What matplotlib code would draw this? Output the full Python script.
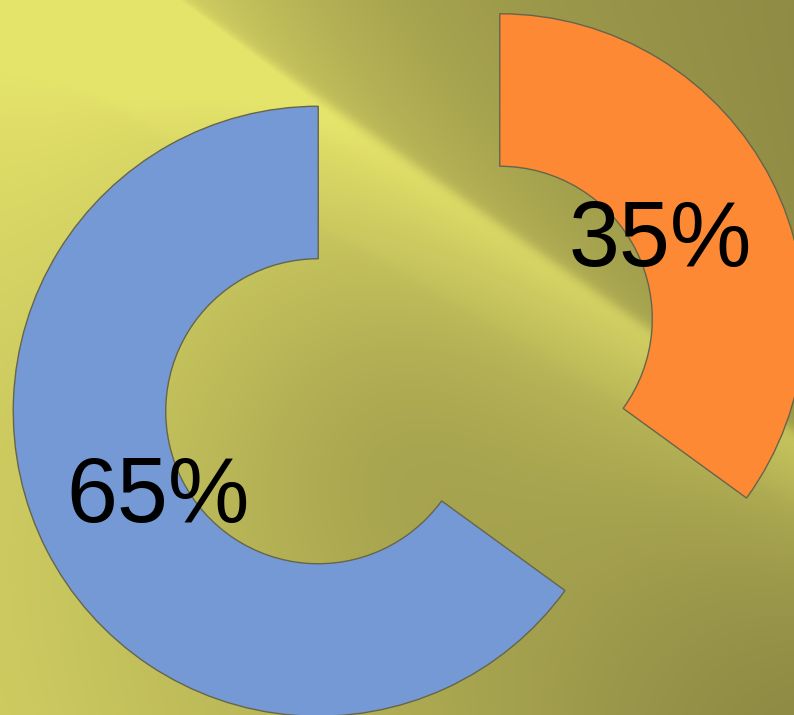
import numpy as np
import matplotlib.pyplot as plt

# Data
labels = ['A', 'B']
values = [65, 35]
colors = ['#7499D5', '#FD8934']

W, H = 794, 715

# Background: olive/yellow gradient with a diagonal light band
yy, xx = np.mgrid[0:H, 0:W].astype(float)
q = yy - 0.7 * xx + 125          # distance below the sharp upper edge of the band
step = 1 / (1 + np.exp(-q / 4.0))
below = 0.55 * np.exp(-np.clip(q, 0, None) / 140) + 0.15 * np.exp(-np.clip(q, 0, None) / 400)
above = 0.25 * np.exp(np.clip(q, None, 0) / 120)
band = step * below + (1 - step) * above
p2 = yy - 0.58 * xx - 39
band += 0.05 * (1 / (1 + np.exp(p2 / 4.0))) * step
g = 0.35 - 0.35 * (xx / W) + 0.35 * (yy / H) * (1 - xx / W)
tl = 0.4 * np.exp(-((xx / 280) ** 2 + (yy / 400) ** 2))
dip = -0.12 * np.exp(-(((xx - 380) / 160) ** 2 + ((yy - 450) / 160) ** 2))
br = -0.15 * np.exp(-(((xx - W) / 300) ** 2 + ((yy - H) / 300) ** 2))
b = np.clip(band + g + tl + dip + br, 0, 1)
light = np.array([228, 227, 106]) / 255
dark = np.array([143, 139, 69]) / 255
bg = dark + b[..., None] * (light - dark)

fig = plt.figure(figsize=(W / 100, H / 100), dpi=100)
ax_bg = fig.add_axes([0, 0, 1, 1])
ax_bg.imshow(bg, aspect='auto', extent=(0, W, H, 0))
ax_bg.axis('off')

# Donut chart, units of outer radius
R = 305.0
cx, cy = 409.0, 350.0  # centre in pixels (y up)
ax = fig.add_axes([0, 0, 1, 1])
ax.patch.set_alpha(0)
wedges, texts, autotexts = ax.pie(
    values, colors=colors, startangle=90, counterclock=True,
    explode=[0.334, 0.334], radius=1.0, pctdistance=0.59,
    autopct='%d%%',
    wedgeprops=dict(width=0.5, edgecolor='#66654a', linewidth=1.0),
    textprops=dict(fontsize=66, color='black', family='Liberation Sans'))
# nudge labels down a little so the glyphs sit where the original has them
for t in autotexts:
    x, y = t.get_position()
    t.set_position((x, y - 5 / R))
ax.set_aspect('auto')
ax.set_xlim(-cx / R, (W - cx) / R)
ax.set_ylim(-cy / R, (H - cy) / R)
ax.axis('off')

fig.savefig('out.png', dpi=100)
